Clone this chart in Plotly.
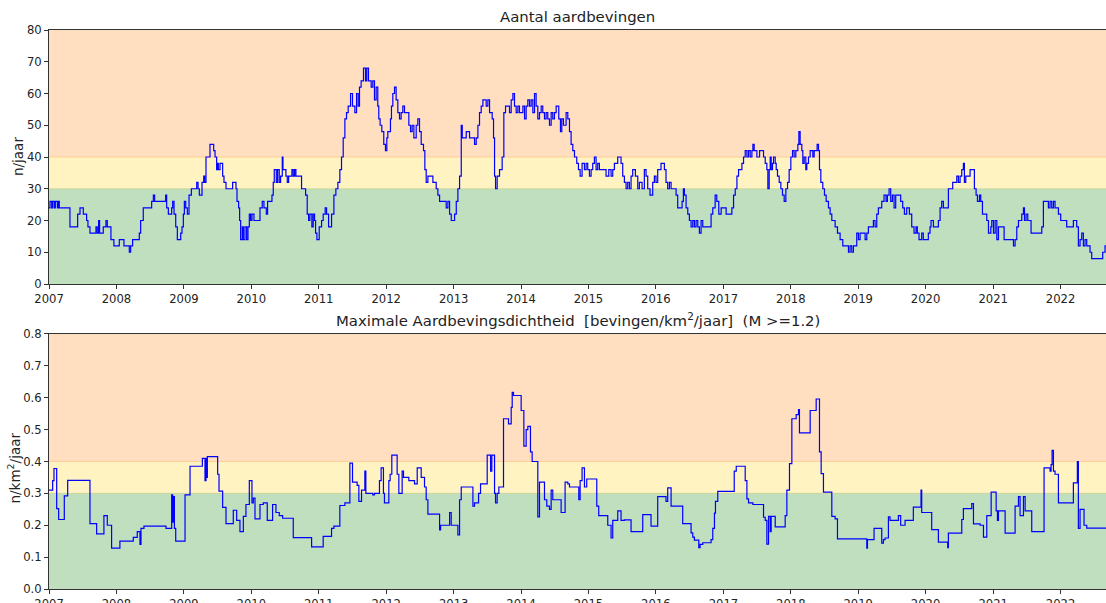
import pandas as pd
import plotly.graph_objects as go

# ---------------- data (decimal years, values) ----------------
count_t = [2007.000, 2007.015, 2007.040, 2007.054, 2007.079, 2007.094, 2007.124, 2007.138, 2007.153,
    2007.311, 2007.425, 2007.460, 2007.509, 2007.558, 2007.578, 2007.608, 2007.697, 2007.716, 2007.736,
    2007.751, 2007.805, 2007.845, 2007.865, 2007.919, 2007.963, 2008.043, 2008.112, 2008.191, 2008.211,
    2008.240, 2008.339, 2008.359, 2008.398, 2008.522, 2008.547, 2008.566, 2008.729, 2008.744, 2008.769,
    2008.818, 2008.833, 2008.853, 2008.878, 2008.902, 2008.952, 2008.971, 2008.991, 2009.006, 2009.026,
    2009.050, 2009.075, 2009.110, 2009.189, 2009.209, 2009.228, 2009.268, 2009.293, 2009.307, 2009.327,
    2009.386, 2009.441, 2009.461, 2009.485, 2009.500, 2009.510, 2009.535, 2009.574, 2009.594, 2009.624,
    2009.722, 2009.772, 2009.787, 2009.811, 2009.826, 2009.841, 2009.866, 2009.881, 2009.905, 2009.930,
    2009.950, 2009.970, 2009.989, 2010.009, 2010.039, 2010.128, 2010.162, 2010.187, 2010.222, 2010.241,
    2010.306, 2010.325, 2010.340, 2010.370, 2010.390, 2010.414, 2010.434, 2010.459, 2010.469, 2010.513,
    2010.533, 2010.553, 2010.602, 2010.622, 2010.642, 2010.661, 2010.745, 2010.805, 2010.829, 2010.849,
    2010.869, 2010.898, 2010.918, 2010.938, 2010.953, 2010.973, 2011.007, 2011.042, 2011.066, 2011.096,
    2011.116, 2011.146, 2011.190, 2011.225, 2011.254, 2011.284, 2011.313, 2011.338, 2011.363, 2011.388,
    2011.412, 2011.437, 2011.472, 2011.501, 2011.536, 2011.561, 2011.585,
    2011.605, 2011.629, 2011.664, 2011.694, 2011.713, 2011.738, 2011.778, 2011.802, 2011.827, 2011.852,
    2011.876, 2011.891, 2011.911, 2011.936, 2011.965, 2011.990, 2012.010, 2012.025, 2012.064, 2012.079,
    2012.099, 2012.124, 2012.148, 2012.173, 2012.198, 2012.222, 2012.247, 2012.272, 2012.336, 2012.361,
    2012.385, 2012.410, 2012.445, 2012.469, 2012.494, 2012.519, 2012.553, 2012.573, 2012.593, 2012.618,
    2012.692, 2012.741, 2012.766, 2012.791, 2012.889, 2012.914, 2012.939, 2012.964, 2013.013, 2013.038,
    2013.062, 2013.087, 2013.112, 2013.127, 2013.186, 2013.235, 2013.309, 2013.334, 2013.359, 2013.383,
    2013.408, 2013.433, 2013.482, 2013.507, 2013.532, 2013.571, 2013.591, 2013.606, 2013.621, 2013.645,
    2013.680, 2013.719, 2013.744, 2013.769, 2013.828, 2013.853, 2013.878, 2013.902, 2013.927, 2013.952,
    2013.976, 2014.026, 2014.051, 2014.075, 2014.100, 2014.125, 2014.149, 2014.174, 2014.199, 2014.223,
    2014.248, 2014.273, 2014.298, 2014.322, 2014.347, 2014.372, 2014.396, 2014.421, 2014.446, 2014.470,
    2014.495, 2014.520, 2014.559, 2014.584, 2014.604, 2014.629, 2014.668, 2014.693, 2014.718, 2014.742,
    2014.767, 2014.792, 2014.826, 2014.851, 2014.876, 2014.905, 2014.940, 2014.965, 2014.989, 2015.014,
    2015.039, 2015.063, 2015.088, 2015.113, 2015.137, 2015.162, 2015.261, 2015.301, 2015.335, 2015.360,
    2015.385, 2015.434, 2015.483, 2015.508, 2015.533, 2015.558, 2015.582, 2015.607, 2015.632, 2015.656,
    2015.696, 2015.731, 2015.755, 2015.795, 2015.829, 2015.854, 2015.879, 2015.913, 2015.953, 2015.978,
    2016.002, 2016.027, 2016.076, 2016.126, 2016.150, 2016.175, 2016.200, 2016.225, 2016.299, 2016.323,
    2016.388, 2016.407, 2016.422, 2016.447, 2016.472, 2016.496, 2016.521, 2016.546, 2016.570, 2016.595,
    2016.620, 2016.644, 2016.669, 2016.694, 2016.817, 2016.842, 2016.877, 2016.901, 2016.931, 2016.966,
    2017.040,
    2017.101, 2017.125, 2017.150, 2017.175, 2017.200, 2017.224, 2017.274, 2017.298, 2017.323, 2017.348,
    2017.372, 2017.397, 2017.422, 2017.437, 2017.456, 2017.496, 2017.536, 2017.595, 2017.620, 2017.644,
    2017.659, 2017.679, 2017.694, 2017.708, 2017.728, 2017.743, 2017.768, 2017.783, 2017.802, 2017.827,
    2017.852, 2017.876, 2017.901, 2017.926, 2017.951, 2017.975, 2018.000, 2018.025, 2018.049, 2018.074,
    2018.104, 2018.119, 2018.138, 2018.163, 2018.178, 2018.198, 2018.222, 2018.237, 2018.262, 2018.287,
    2018.326, 2018.346, 2018.390, 2018.410, 2018.425, 2018.445, 2018.474, 2018.499, 2018.524, 2018.558,
    2018.583, 2018.608, 2018.657, 2018.692, 2018.731, 2018.771, 2018.855, 2018.879, 2018.904, 2018.929,
    2018.978, 2019.003, 2019.028, 2019.102, 2019.127, 2019.151, 2019.225, 2019.250, 2019.275, 2019.299,
    2019.349, 2019.383, 2019.413, 2019.433, 2019.458, 2019.482, 2019.507, 2019.532, 2019.556, 2019.596,
    2019.630, 2019.660, 2019.685, 2019.719, 2019.759, 2019.794, 2019.828, 2019.858, 2019.877, 2019.902,
    2019.942, 2019.966, 2020.040, 2020.065, 2020.080, 2020.115, 2020.189, 2020.214, 2020.238, 2020.263,
    2020.337, 2020.401, 2020.461, 2020.485, 2020.510, 2020.535, 2020.559, 2020.574, 2020.594, 2020.658,
    2020.722, 2020.747, 2020.767, 2020.797, 2020.816, 2020.841, 2020.905, 2020.930, 2020.965, 2020.979,
    2021.004, 2021.029, 2021.054, 2021.078, 2021.162, 2021.301, 2021.325, 2021.350, 2021.375, 2021.424,
    2021.449, 2021.464, 2021.488, 2021.513, 2021.562, 2021.721, 2021.745, 2021.819, 2021.844, 2021.869,
    2021.894, 2021.918, 2021.968, 2022.002, 2022.091, 2022.190, 2022.239, 2022.264, 2022.289, 2022.314,
    2022.338, 2022.363, 2022.388, 2022.437, 2022.462, 2022.625, 2022.660, 2022.674]
count_v = [24, 26, 24, 26, 24, 26, 24, 26, 24,
    18, 22, 24, 22, 20, 18, 16, 18, 16, 20,
    16, 18, 20, 18, 14, 12, 14, 12, 10, 12,
    14, 16, 20, 24, 26, 28, 26, 28, 24, 22,
    24, 26, 22, 18, 14, 16, 18, 22, 26, 24,
    22, 28, 30, 32, 30, 28, 32, 34, 32, 40,
    44, 42, 40, 36, 38, 36, 38, 34, 32, 30,
    32, 30, 26, 24, 20, 14, 18, 14, 18, 14,
    18, 22, 20, 22, 20, 24, 26, 24, 22, 26,
    28, 32, 36, 32, 36, 32, 34, 40, 36, 34,
    32, 34, 36, 34, 36, 34, 30, 28, 22, 20,
    22, 18, 22, 20, 16, 14, 18, 20, 22, 24,
    22, 18, 22, 28, 30, 32, 36, 40, 46, 52,
    54, 56, 60, 56, 54, 60, 56,
    62, 64, 68, 64, 68, 64, 62, 64, 58, 62,
    56, 52, 50, 48, 44, 42, 46, 48, 52, 56,
    60, 62, 58, 54, 52, 54, 56, 54, 50, 48,
    50, 46, 50, 52, 48, 44, 42, 36, 32, 34,
    32, 30, 28, 26, 24, 26, 22, 20, 22, 26,
    30, 34, 50, 46, 48, 46, 44, 46, 50, 54,
    56, 58, 56, 58, 54, 52, 46, 34, 30, 34,
    36, 40, 54, 56, 54, 58, 60, 56, 54, 56,
    54, 56, 52, 56, 58, 56, 58, 54, 60, 56,
    52, 54, 56, 54, 52, 54, 52, 50, 54, 52,
    54, 56, 52, 48, 52, 50, 54, 52, 48, 44,
    42, 40, 38, 36, 34, 38, 36, 38, 36, 34,
    36, 38, 40, 36, 38, 36, 34, 36, 34, 36,
    38, 40, 38, 34, 32, 30, 32, 30, 34, 36,
    34, 30, 32, 30, 36, 34, 30, 28, 32, 34,
    32, 36, 38, 36, 32, 30, 32, 30, 28, 24,
    26, 30, 28, 24, 22, 20, 18, 20, 18, 20,
    18, 16, 20, 18, 22, 24, 28, 26, 22, 24,
    22,
    22, 24, 28, 30, 34, 36, 38, 40, 42, 40,
    42, 40, 42, 44, 42, 40, 42, 40, 38, 36,
    30, 36, 40, 36, 38, 40, 38, 36, 34, 32,
    30, 28, 26, 30, 32, 36, 40, 42, 40, 42,
    44, 48, 44, 42, 38, 40, 36, 38, 40, 42,
    40, 42, 44, 42, 36, 32, 30, 28, 26, 24,
    22, 20, 18, 16, 14, 12, 10, 12, 10, 12,
    16, 14, 16, 14, 16, 18, 20, 18, 22, 24,
    26, 28, 26, 28, 30, 26, 28, 24, 28, 28,
    26, 24, 22, 24, 22, 18, 16, 18, 16, 14,
    16, 14, 16, 18, 20, 18, 20, 24, 26, 24,
    30, 32, 34, 32, 34, 36, 38, 32, 34, 36,
    30, 28, 26, 28, 26, 22, 20, 16, 18, 20,
    16, 20, 14, 18, 14, 12, 14, 18, 20, 22,
    24, 20, 22, 20, 16, 18, 26, 24, 26, 24,
    26, 24, 22, 20, 18, 20, 18, 12, 14, 16,
    12, 14, 12, 10, 8, 10, 12, 12]

dens_t = [2007.000, 2007.054, 2007.074, 2007.114, 2007.143, 2007.227, 2007.277, 2007.608, 2007.707,
    2007.815, 2007.865, 2007.929, 2008.052, 2008.250, 2008.309, 2008.349, 2008.364, 2008.408, 2008.734,
    2008.818, 2008.833, 2008.843, 2008.858, 2008.878, 2009.016, 2009.090, 2009.273, 2009.312, 2009.327,
    2009.337, 2009.347, 2009.500, 2009.520, 2009.574, 2009.624, 2009.732, 2009.782, 2009.831, 2009.881,
    2009.920, 2009.970, 2010.009, 2010.029, 2010.054, 2010.128, 2010.177, 2010.236, 2010.315, 2010.365,
    2010.414, 2010.464, 2010.622, 2010.894, 2011.066, 2011.190, 2011.225, 2011.313, 2011.388, 2011.462,
    2011.501, 2011.570, 2011.595, 2011.635, 2011.684, 2011.699,
    2011.802, 2011.827, 2011.901, 2011.926, 2011.960, 2011.975, 2012.040, 2012.059, 2012.084, 2012.163,
    2012.188, 2012.237, 2012.257, 2012.336, 2012.420, 2012.460, 2012.519, 2012.568, 2012.593, 2012.618,
    2012.791, 2012.806, 2012.939, 2012.963, 2013.062, 2013.087, 2013.112, 2013.285, 2013.309, 2013.369,
    2013.398, 2013.497, 2013.547, 2013.566, 2013.606, 2013.621, 2013.645, 2013.670, 2013.739, 2013.813,
    2013.853, 2013.868, 2013.887, 2014.001, 2014.041, 2014.075, 2014.100, 2014.139, 2014.164, 2014.248,
    2014.273, 2014.347, 2014.381, 2014.421, 2014.446, 2014.470, 2014.594, 2014.653, 2014.693, 2014.718,
    2014.856, 2014.876, 2014.905, 2014.940, 2014.974, 2015.123, 2015.152, 2015.286, 2015.335, 2015.360,
    2015.434, 2015.483, 2015.533, 2015.632, 2015.805, 2015.928, 2016.027, 2016.150, 2016.175, 2016.225,
    2016.397, 2016.521, 2016.546, 2016.570, 2016.635, 2016.654, 2016.694, 2016.817, 2016.842, 2016.867,
    2016.882, 2016.916,
    2017.160, 2017.190, 2017.323, 2017.348, 2017.372, 2017.437, 2017.595, 2017.620, 2017.644, 2017.669,
    2017.694, 2017.708, 2017.768, 2017.916, 2017.941, 2017.980, 2018.015, 2018.079, 2018.114, 2018.128,
    2018.287, 2018.376, 2018.425, 2018.450, 2018.484, 2018.608, 2018.657, 2018.692, 2019.127, 2019.137,
    2019.235, 2019.349, 2019.374, 2019.398, 2019.448, 2019.472, 2019.596, 2019.630, 2019.695, 2019.818,
    2019.932, 2019.942, 2020.090, 2020.189, 2020.327, 2020.337, 2020.535, 2020.559, 2020.683, 2020.708,
    2020.806, 2020.856, 2020.905, 2020.970, 2021.044, 2021.063, 2021.078, 2021.177, 2021.325, 2021.375,
    2021.399, 2021.449, 2021.474, 2021.572, 2021.755, 2021.844, 2021.859, 2021.874, 2021.894, 2021.918,
    2021.968, 2022.190, 2022.249, 2022.264, 2022.289, 2022.348, 2022.388, 2022.674]
dens_v = [0.31, 0.34, 0.378, 0.252, 0.218, 0.292, 0.341, 0.205, 0.173,
    0.23, 0.20, 0.128, 0.15, 0.162, 0.18, 0.14, 0.19, 0.197, 0.19,
    0.295, 0.21, 0.29, 0.19, 0.15, 0.295, 0.385, 0.41, 0.34, 0.41,
    0.35, 0.415, 0.36, 0.307, 0.256, 0.205, 0.247, 0.215, 0.18, 0.228,
    0.265, 0.34, 0.27, 0.285, 0.22, 0.265, 0.27, 0.215, 0.265, 0.24,
    0.23, 0.222, 0.161, 0.132, 0.165, 0.19, 0.197, 0.262, 0.27, 0.395,
    0.335, 0.325, 0.275, 0.31, 0.37, 0.30,
    0.295, 0.30, 0.34, 0.38, 0.30, 0.27, 0.34, 0.36, 0.42, 0.36,
    0.30, 0.37, 0.35, 0.34, 0.33, 0.38, 0.35, 0.32, 0.28, 0.235,
    0.185, 0.20, 0.24, 0.20, 0.17, 0.28, 0.32, 0.26, 0.27, 0.30,
    0.33, 0.42, 0.37, 0.42, 0.30, 0.27, 0.30, 0.32, 0.534, 0.518,
    0.57, 0.617, 0.607, 0.56, 0.448, 0.50, 0.51, 0.43, 0.40, 0.226,
    0.335, 0.28, 0.26, 0.25, 0.31, 0.28, 0.24, 0.335, 0.33, 0.32,
    0.28, 0.34, 0.38, 0.32, 0.345, 0.26, 0.23, 0.20, 0.16, 0.215,
    0.245, 0.215, 0.217, 0.18, 0.233, 0.197, 0.29, 0.275, 0.317, 0.26,
    0.205, 0.176, 0.163, 0.153, 0.13, 0.14, 0.145, 0.155, 0.19, 0.238,
    0.275, 0.306,
    0.37, 0.385, 0.34, 0.283, 0.27, 0.265, 0.225, 0.215, 0.141, 0.228,
    0.18, 0.228, 0.195, 0.23, 0.31, 0.393, 0.534, 0.547, 0.563, 0.49,
    0.56, 0.596, 0.43, 0.362, 0.304, 0.228, 0.22, 0.157, 0.128, 0.155,
    0.19, 0.144, 0.155, 0.16, 0.226, 0.215, 0.23, 0.20, 0.215, 0.257,
    0.31, 0.24, 0.186, 0.147, 0.13, 0.175, 0.218, 0.252, 0.268, 0.204,
    0.20, 0.163, 0.23, 0.304, 0.245, 0.215, 0.245, 0.175, 0.26, 0.29,
    0.23, 0.29, 0.245, 0.18, 0.38, 0.37, 0.39, 0.435, 0.37, 0.36,
    0.27, 0.333, 0.40, 0.19, 0.25, 0.20, 0.191, 0.191]

x_start, x_end = 2007.0, 2022.674
year_ticks = list(range(2007, 2023))
count_bands = [0, 30, 40, 80]
dens_bands = [0, 0.3, 0.4, 0.8]
band_colors = ["rgb(191,223,191)", "rgb(255,243,193)", "rgb(255,223,192)"]
band_edges = ["rgba(190,200,120,0.6)", "rgba(255,190,120,0.6)"]


def to_date(y):
    yi = int(y)
    start = pd.Timestamp(year=yi, month=1, day=1)
    end = pd.Timestamp(year=yi + 1, month=1, day=1)
    return start + (end - start) * (y - yi)


count_x = [to_date(t) for t in count_t]
dens_x = [to_date(t) for t in dens_t]
x_range = [to_date(x_start), to_date(x_end)]
tickvals = [pd.Timestamp(year=y, month=1, day=1) for y in year_ticks]
ticktext = [str(y) for y in year_ticks]

fig = go.Figure()
fig.add_trace(go.Scatter(x=count_x, y=count_v, mode="lines", line_shape="hv",
                         line=dict(color="rgb(0,0,255)", width=1.2), xaxis="x", yaxis="y",
                         showlegend=False))
fig.add_trace(go.Scatter(x=dens_x, y=dens_v, mode="lines", line_shape="hv",
                         line=dict(color="rgb(0,0,255)", width=1.2), xaxis="x2", yaxis="y2",
                         showlegend=False))

shapes = []
for xr, yr, bands in (("x", "y", count_bands), ("x2", "y2", dens_bands)):
    for i in range(3):
        shapes.append(dict(type="rect", xref=xr + " domain", yref=yr, x0=0, x1=1,
                           y0=bands[i], y1=bands[i + 1], fillcolor=band_colors[i],
                           line_width=0, layer="below"))
    for i in range(2):
        shapes.append(dict(type="line", xref=xr + " domain", yref=yr, x0=0, x1=1,
                           y0=bands[i + 1], y1=bands[i + 1],
                           line=dict(color=band_edges[i], width=1), layer="below"))

font = dict(family="DejaVu Sans", size=11.6, color="#222")
axis_common = dict(showgrid=False, zeroline=False, showline=True, mirror=True,
                   linecolor="#333", linewidth=1, ticks="outside", ticklen=4,
                   tickcolor="#333", automargin=False, tickfont=font)
title_font = dict(family="DejaVu Sans", size=14.9, color="#222")
ytitle_font = dict(family="DejaVu Sans", size=13.5, color="#222")

top_dom = [0.5456, 1.0]
bot_dom = [0.0, 0.4562]

fig.update_layout(
    width=1106, height=603,
    margin=dict(l=49, r=0, t=30, b=14),
    paper_bgcolor="white", plot_bgcolor="white",
    font=font,
    shapes=shapes,
    xaxis=dict(domain=[0, 1], anchor="y", range=x_range, tickvals=tickvals,
               ticktext=ticktext, **axis_common),
    yaxis=dict(domain=top_dom, anchor="x", range=[0, 80], dtick=10, **axis_common),
    xaxis2=dict(domain=[0, 1], anchor="y2", range=x_range, tickvals=tickvals,
                ticktext=ticktext, **axis_common),
    yaxis2=dict(domain=bot_dom, anchor="x2", range=[0, 0.8], dtick=0.1, tickformat=".1f",
                **axis_common),
    annotations=[
        dict(text="Aantal aardbevingen", xref="paper", yref="paper", x=0.5, y=top_dom[1],
             yshift=2, xanchor="center", yanchor="bottom", showarrow=False, font=title_font),
        dict(text="Maximale Aardbevingsdichtheid\u00a0\u00a0[bevingen/km<sup>2</sup>/jaar]\u00a0\u00a0(M >=1.2)",
             xref="paper", yref="paper", x=0.5, y=bot_dom[1], yshift=2,
             xanchor="center", yanchor="bottom", showarrow=False, font=title_font),
        dict(text="n/jaar", xref="paper", yref="paper", x=0, xshift=-31,
             y=(top_dom[0] + top_dom[1]) / 2, textangle=-90, xanchor="center",
             yanchor="middle", showarrow=False, font=ytitle_font),
        dict(text="n/km<sup>2</sup>/jaar", xref="paper", yref="paper", x=0, xshift=-34,
             yshift=-7, y=(bot_dom[0] + bot_dom[1]) / 2, textangle=-90, xanchor="center",
             yanchor="middle", showarrow=False, font=ytitle_font),
    ],
)

fig.write_html("out.html", config={"displayModeBar": False},
               post_script="document.body.style.margin='0';document.body.style.overflow='hidden';")
